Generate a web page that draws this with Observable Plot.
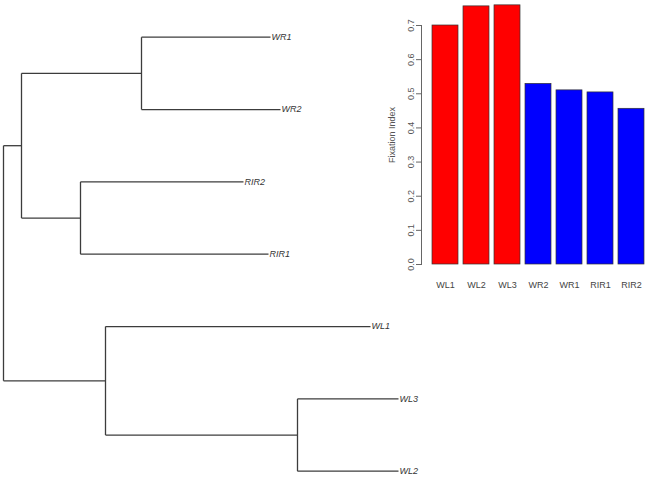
<!DOCTYPE html>
<html>
<head>
<meta charset="utf-8">
<script src="https://cdn.jsdelivr.net/npm/d3@7"></script>
<script src="https://cdn.jsdelivr.net/npm/@observablehq/plot@0.6"></script>
<style>
  html, body { margin: 0; padding: 0; background: #fff; }
  #wrap { position: relative; width: 653px; height: 479px; background: #fff; overflow: hidden; font-family: "Liberation Sans", Arial, sans-serif; }
  #tree { position: absolute; left: 0; top: 0; }
  #bars { position: absolute; left: 380px; top: 0; }
</style>
</head>
<body>
<div id="wrap"><div id="tree"></div><div id="bars"></div></div>
<script>
// ---- Dendrogram data ----
const nodeNames  = ["root", "A", "WR", "RIR", "WL", "WL23", "WR1", "WR2", "RIR2", "RIR1", "WL1", "WL3", "WL2"];
const nodeParent = [null, "root", "A", "A", "root", "WL", "WR", "WR", "RIR", "RIR", "WL", "WL23", "WL23"];
const nodeDepth  = [0, 0.018, 0.138, 0.077, 0.102, 0.294, 0.267, 0.277, 0.240, 0.265, 0.367, 0.395, 0.395];
const leafOrder  = ["WR1", "WR2", "RIR2", "RIR1", "WL1", "WL3", "WL2"];

// ---- Bar chart data ----
const barCategories = ["WL1", "WL2", "WL3", "WR2", "WR1", "RIR1", "RIR2"];
const barValues     = [0.700, 0.756, 0.759, 0.529, 0.510, 0.504, 0.456];
const barGroups     = ["WL", "WL", "WL", "other", "other", "other", "other"];
const yTicks        = [0, 0.1, 0.2, 0.3, 0.4, 0.5, 0.6, 0.7];

// build tree table
const nodes = nodeNames.map((name, i) => ({name, parent: nodeParent[i], depth: nodeDepth[i]}));
const byName = new Map(nodes.map(d => [d.name, d]));
nodes.forEach(d => d.children = nodes.filter(c => c.parent === d.name));
function pos(d) {
  if (d.pos !== undefined) return d.pos;
  if (d.children.length === 0) d.pos = leafOrder.indexOf(d.name);
  else { const p = d.children.map(pos); d.pos = (d3.min(p) + d3.max(p)) / 2; }
  return d.pos;
}
nodes.forEach(pos);
const hSegs = nodes.filter(d => d.parent).map(d => ({x1: byName.get(d.parent).depth, x2: d.depth, y1: d.pos, y2: d.pos}));
const vSegs = nodes.filter(d => d.children.length).map(d => ({x1: d.depth, x2: d.depth, y1: d3.min(d.children, pos), y2: d3.max(d.children, pos)}));
const leaves = nodes.filter(d => d.children.length === 0);

const tree = Plot.plot({
  width: 653, height: 479,
  margin: 0,
  style: {background: "transparent", fontFamily: "Liberation Sans, Arial, sans-serif"},
  x: {domain: [0, 0.4], range: [3, 403], axis: null},
  y: {domain: [0, 6], range: [36.7, 470.7], axis: null},
  marks: [
    Plot.link(hSegs.concat(vSegs), {x1: "x1", y1: "y1", x2: "x2", y2: "y2", stroke: "#3c3c3c", strokeWidth: 1.3}),
    Plot.text(leaves, {x: "depth", y: "pos", text: "name", textAnchor: "start", dx: 1, fontSize: 9, fontStyle: "italic", fill: "#333"})
  ]
});
document.getElementById("tree").appendChild(tree);

const barData = barCategories.map((c, i) => ({cat: c, value: barValues[i], group: barGroups[i]}));
const bars = Plot.plot({
  width: 273, height: 300,
  marginLeft: 41, marginTop: 25, marginBottom: 36, marginRight: 0,
  style: {background: "transparent", fontFamily: "Liberation Sans, Arial, sans-serif"},
  x: {domain: barCategories, range: [46.4, 270.4], paddingInner: 0.16, paddingOuter: 0.08, align: 0.5},
  y: {domain: [0, 0.7], range: [264, 25]},
  color: {domain: ["WL", "other"], range: ["#ff0000", "#0000ff"]},
  marks: [
    Plot.barY(barData, {x: "cat", y: "value", fill: "group", stroke: "#333", strokeWidth: 0.7}),
    Plot.frame({anchor: "left", stroke: "#666"}),
    Plot.axisY({ticks: yTicks, tickFormat: ".1f", tickSize: 5, tickPadding: 3, tickRotate: -90, fontSize: 9, color: "#555", stroke: "#666", label: null}),
    Plot.axisX({tickSize: 0, tickPadding: 17, fontSize: 9, color: "#444", label: null}),
    Plot.text(["Fixation Index"], {frameAnchor: "left", textAnchor: "middle", rotate: -90, dx: -29, dy: -10, fontSize: 9, fill: "#555"})
  ]
});
document.getElementById("bars").appendChild(bars);
</script>
</body>
</html>
